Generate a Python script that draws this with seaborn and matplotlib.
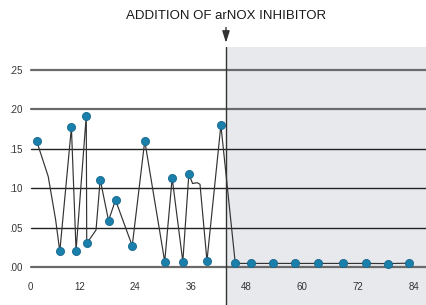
import numpy as np
import matplotlib
matplotlib.use('Agg')
import matplotlib.pyplot as plt
import pandas as pd
import seaborn as sns
from matplotlib.transforms import ScaledTranslation

# trace (hours vs value); kinks without a marker have marker=False
hours = [2.8, 5.3, 6.9, 7.8, 10.3, 11.3, 13.5, 13.6, 15.6, 16.5, 18.3, 19.8, 23.4,
         26.1, 30.4, 32.0, 34.3, 35.6, 36.4, 37.4, 38.0, 39.5, 42.5,
         45.6, 48.9, 53.7, 58.4, 63.4, 68.9, 73.7, 78.5, 83.1]
values = [0.160, 0.115, 0.060, 0.020, 0.177, 0.021, 0.192, 0.030, 0.047, 0.111, 0.059, 0.085, 0.027,
          0.160, 0.007, 0.113, 0.007, 0.118, 0.106, 0.107, 0.105, 0.008, 0.180,
          0.0047, 0.0047, 0.0047, 0.0047, 0.0047, 0.0047, 0.0047, 0.0045, 0.005]
marker = [True, False, False, True, True, True, True, True, False, True, True, True, True,
          True, True, True, True, True, False, False, False, True, True,
          True, True, True, True, True, True, True, True, True]

inhibitor_at = 43.6
x_ticks = [0, 12, 24, 36, 48, 60, 72, 84]
y_ticks = [0.00, 0.05, 0.10, 0.15, 0.20, 0.25]
y_labels = ['.00', '.05', '.10', '.15', '.20', '.25']
title = 'ADDITION OF arNOX INHIBITOR'

df = pd.DataFrame({'hours': hours, 'value': values, 'marker': marker})

sns.set_style('white')
plt.rcParams['font.family'] = ['Liberation Sans', 'DejaVu Sans']

fig = plt.figure(figsize=(4.27, 3.05), dpi=100)
ax = fig.add_axes([23.6 / 427, 0, (427 - 23.6) / 427, 1 - 47 / 305])
ax.set_xlim(0, 86.9)
ax.set_ylim(-0.048, 0.279)

ax.axvspan(inhibitor_at, 86.9, color='#e8e9ed', zorder=0, lw=0)

for y in y_ticks:
    outer = y in (0.00, 0.20, 0.25)
    ax.axhline(y, xmin=(31 - 23.6) / 403.4, color='#6a6a6a' if outer else '#222222',
               lw=1.6 if outer else 1.0, zorder=1)

ax.axvline(inhibitor_at, color='#333333', lw=1.0, zorder=1)

sns.lineplot(data=df, x='hours', y='value', sort=False, estimator=None,
             color='#333333', lw=0.85, ax=ax, zorder=2)
sns.scatterplot(data=df[df['marker']], x='hours', y='value', s=34,
                color='#1a7fab', edgecolor='#15698e', linewidth=0.6, ax=ax, zorder=3)

# arrow pointing at the moment the inhibitor was added
ax.annotate('', xy=(inhibitor_at, 1.0), xycoords=('data', 'axes fraction'),
            xytext=(0, 14), textcoords='offset points',
            arrowprops=dict(arrowstyle='-|>,head_length=0.7,head_width=0.22',
                            color='#333333', lw=1.0, shrinkA=0, shrinkB=3))

fig.text(226 / 427, 1 - 16 / 305, title, ha='center', va='center',
         fontsize=9.5, color='#1a1a1a')

ax.set_xticks(x_ticks)
ax.set_xticklabels([str(t) for t in x_ticks])
ax.set_yticks(y_ticks)
ax.set_yticklabels(y_labels)
ax.spines['bottom'].set_position(('data', 0))
for s in ax.spines.values():
    s.set_visible(False)
ax.tick_params(axis='x', length=0, pad=11, labelsize=7, labelcolor='#333333')
ax.tick_params(axis='y', length=0, pad=1, labelsize=7, labelcolor='#333333')
# the "0" label sits at the start of the gridlines in the original
lbl0 = ax.get_xticklabels()[0]
lbl0.set_transform(lbl0.get_transform() + ScaledTranslation(7 / 100, 0, fig.dpi_scale_trans))
ax.set_xlabel('')
ax.set_ylabel('')
ax.patch.set_alpha(0)

fig.savefig('out.png', dpi=100)
